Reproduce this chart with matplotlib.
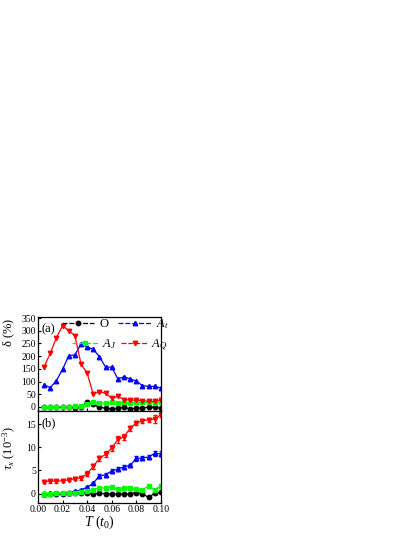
import matplotlib
matplotlib.use("Agg")
import matplotlib.pyplot as plt
from matplotlib.lines import Line2D
import numpy as np

plt.rcParams['font.family'] = ['Liberation Serif', 'DejaVu Serif']
plt.rcParams['mathtext.fontset'] = 'custom'
plt.rcParams['mathtext.rm'] = 'Liberation Serif'
plt.rcParams['mathtext.it'] = 'Liberation Serif:italic'

T = [0.005, 0.010, 0.015, 0.020, 0.025, 0.030, 0.035, 0.040, 0.045, 0.050,
     0.055, 0.060, 0.065, 0.070, 0.075, 0.080, 0.085, 0.090, 0.095, 0.100]

# panel (a): delta (%)
delta_O = [0, -1, -1, -2, -1, -3, 0, 18, 10, -1, -5, -8, -5, -1, -8, -5, -4, -1, -1, -5]
delta_At = [87, 76, 104, 148, 201, 205, 247, 236, 227, 198, 157, 157, 110, 119, 110, 102, 84, 81, 81, 75]
delta_AJ = [0, 1, 1, 1, 0, 3, 4, 10, 21, 16, 14, 18, 17, 18, 16, 18, 18, 18, 17, 21]
delta_AQ = [159, 211, 273, 320, 300, 281, 169, 133, 50, 60, 54, 34, 42, 29, 27, 26, 25, 22, 22, 28]

# panel (b): tau_x (1e-3)
tau_O = [0.0, 0.0, 0.0, 0.0, 0.05, 0.1, 0.15, 0.2, -0.1, 0.1, 0.0, -0.1, 0.0, -0.1, 0.0, 0.2, 0.0, -0.8, 0.1, 0.3]
tau_At = [0.0, 0.05, 0.1, 0.15, 0.25, 0.5, 0.8, 1.4, 2.3, 3.8, 4.1, 4.9, 5.3, 5.8, 6.1, 7.6, 7.7, 7.9, 8.7, 8.6]
tau_AJ = [0.0, 0.0, 0.05, 0.1, 0.1, 0.2, 0.3, 0.6, 0.8, 1.3, 1.2, 1.5, 1.0, 1.3, 1.2, 1.0, 0.9, 1.6, 0.9, 1.7]
tau_AQ = [2.6, 2.7, 2.7, 2.8, 3.0, 3.2, 3.4, 4.3, 5.9, 7.6, 8.5, 9.8, 11.7, 12.2, 14.1, 15.2, 15.7, 15.9, 16.1, 17.0]

err_O = [0.15] * 20
err_At = [0.15, 0.15, 0.15, 0.15, 0.15, 0.2, 0.2, 0.3, 0.3, 0.4, 0.4, 0.4, 0.5, 0.4, 0.4, 0.5, 0.5, 0.4, 0.5, 0.5]
err_AJ = [0.15] * 20
err_AQ = [0.3, 0.3, 0.3, 0.3, 0.3, 0.3, 0.4, 0.5, 0.5, 0.5, 0.7, 0.6, 0.8, 0.6, 0.5, 0.5, 0.4, 0.5, 0.8, 0.5]

labels = ['O', r'$A_t$', r'$A_J$', r'$A_Q$']
colors = ['#000000', '#0000FF', '#00FF00', '#FF0000']
markers = ['o', '^', 's', 'v']

fig = plt.figure(figsize=(4.15, 5.37), dpi=100)
axA = fig.add_axes([0.0916, 0.2346, 0.296, 0.1751])
axB = fig.add_axes([0.0916, 0.0633, 0.296, 0.1713])

lw = 0.9
ms = 3.2
for y, c, m in zip([delta_O, delta_At, delta_AJ, delta_AQ], colors, markers):
    axA.plot(T, y, color=c, marker=m, ms=ms, lw=lw)

for y, e, c, m in zip([tau_O, tau_At, tau_AJ, tau_AQ], [err_O, err_At, err_AJ, err_AQ], colors, markers):
    axB.errorbar(T, y, yerr=e, color=c, marker=m, ms=ms, lw=lw, capsize=1.5, elinewidth=0.8)

axA.set_xlim(0, 0.10)
axB.set_xlim(0, 0.10)
axA.set_ylim(-16, 354)
axB.set_ylim(-2.0, 17.8)
axA.set_yticks([0, 50, 100, 150, 200, 250, 300, 350])
axB.set_yticks([0, 5, 10, 15])
axA.set_xticks([0.00, 0.02, 0.04, 0.06, 0.08, 0.10])
axB.set_xticks([0.00, 0.02, 0.04, 0.06, 0.08, 0.10])
axA.set_xticklabels([])
axB.set_xticklabels(['0.00', '0.02', '0.04', '0.06', '0.08', '0.10'])

for ax in (axA, axB):
    ax.tick_params(direction='in', length=2.5, width=0.8, labelsize=7, pad=1.5)
    for s in ax.spines.values():
        s.set_linewidth(0.9)

axA.set_ylabel(r'$\mathrm{\delta}$ (%)', fontsize=9)
axA.yaxis.set_label_coords(-0.175, 0.84)
axB.set_ylabel(r'$\tau_x$ (10$^{-3}$)', fontsize=9)
axB.yaxis.set_label_coords(-0.16, 0.6)
axB.set_xlabel(r'$T$ ($t_0$)', fontsize=10, labelpad=0)

axA.text(0.03, 0.93, '(a)', transform=axA.transAxes, fontsize=9, va='top', ha='left')
axB.text(0.03, 0.93, '(b)', transform=axB.transAxes, fontsize=9, va='top', ha='left')

handles = [Line2D([], [], color=c, marker=m, ms=ms, lw=lw, linestyle=(0, (4, 1.5)))
           for c, m in zip(colors, markers)]
leg1 = axA.legend([handles[0], handles[1]], [labels[0], labels[1]], ncol=2,
                  loc='center left', bbox_to_anchor=(0.195, 0.926), frameon=False,
                  fontsize=9, handlelength=2.6, handletextpad=0.4, columnspacing=0.8,
                  borderpad=0, borderaxespad=0)
axA.add_artist(leg1)
axA.legend([handles[2], handles[3]], [labels[2], labels[3]], ncol=2,
           loc='center left', bbox_to_anchor=(0.276, 0.70), frameon=False,
           fontsize=9, handlelength=2.1, handletextpad=0.3, columnspacing=0.4,
           borderpad=0, borderaxespad=0)

fig.savefig('out.png', dpi=100)
